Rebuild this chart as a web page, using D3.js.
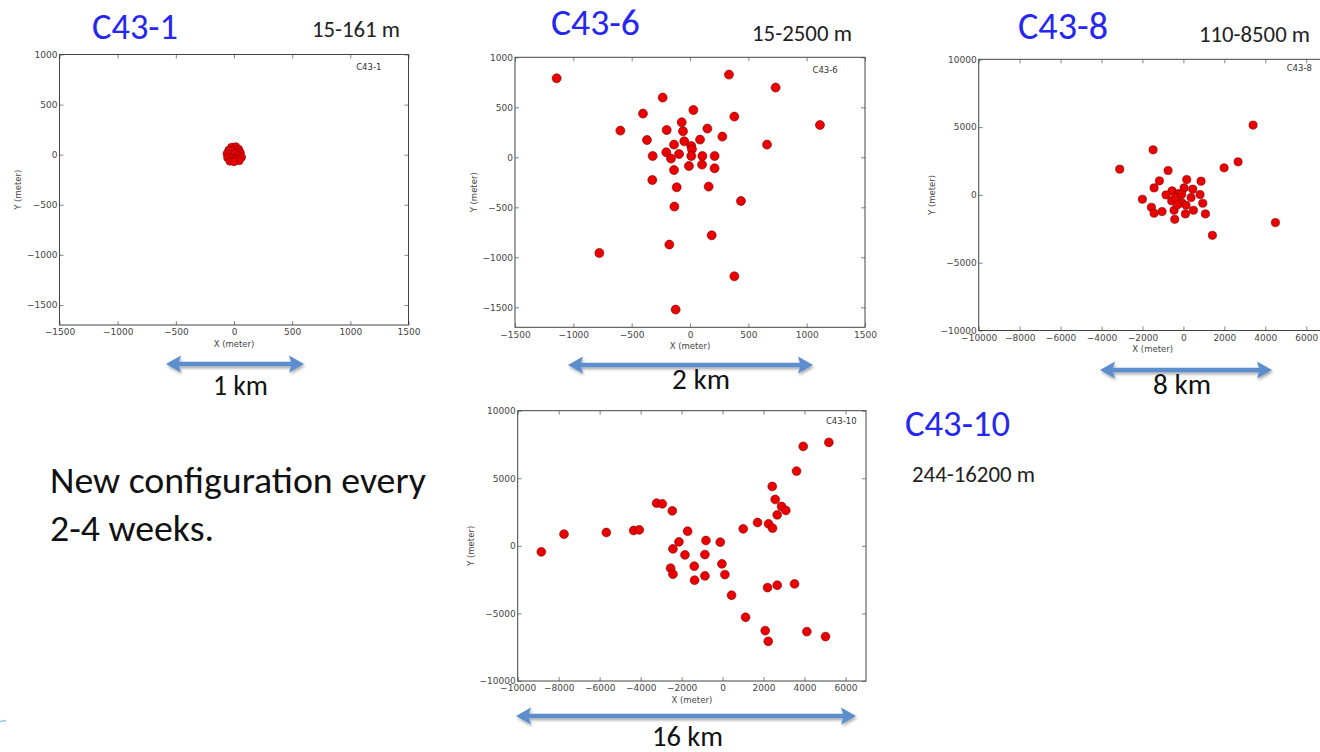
<!DOCTYPE html>
<html><head><meta charset="utf-8">
<script src="https://cdn.jsdelivr.net/npm/d3@7"></script>
<style>body{margin:0;background:#fff;overflow:hidden} svg{display:block}</style>
</head><body><svg id="s" width="1320" height="752"></svg>
<script>
// ---------- data ----------
const c43_1_x = [-20, 15, 40, -45, -10, 25, 55, -60, -30, 5, 40, 65, -55, -20, 15, 45, -35, 0];
const c43_1_y = [75, 80, 55, 45, 45, 30, 20, 10, 5, 10, -10, -25, -30, -35, -45, -60, -65, -70];

const c43_6_x = [-1143, 334, 734, -234, -403, 29, 380, -597, 1114, -71, -200, -60, 149, 277, -369, -49, 86, -137, 11, 17, 660, -203, -94, -320, -163, 11, 106, 211, -9, 103, 211, -137, -323, -114, 160, 437, -134, 186, -177, -777, 380, -123];
const c43_6_y = [790, 827, 697, 597, 437, 473, 407, 267, 323, 350, 273, 260, 287, 207, 173, 160, 177, 127, 113, 80, 127, 50, 33, 13, -13, 13, 13, 13, -87, -73, -110, -127, -227, -300, -293, -437, -493, -780, -873, -957, -1190, -1523];

const c43_8_x = [3404, -1482, -3111, -749, 1987, 2671, -1173, 163, 863, -1433, -554, 33, 456, -847, -228, 814, -2003, 375, -570, -81, 945, -1563, -1042, -456, 130, 489, -1433, 98, 1075, -423, 1417, 4495, -391, -81, -293];
const c43_8_y = [5148, 3325, 1897, 1798, 1995, 2438, 1034, 1133, 1010, 517, 296, 517, 419, 0, 99, 25, -320, -197, -443, -567, -616, -911, -1232, -1133, -764, -1133, -1355, -1404, -1404, -1798, -2980, -2044, -197, 49, -739];

const c43_10_x = [5187, 3935, 3610, 2423, 2569, 2878, 3089, 2667, -3220, -2943, -2455, 1707, 2244, 2439, 1008, -1707, -7740, -5675, -4341, -4065, -2130, -813, -114, -8846, -2423, -1837, -862, -2537, -1382, -33, -2423, -862, 114, -1366, 439, 2195, 2667, 3512, 1122, 2081, 2228, 4114, 5024];
const c43_10_y = [7654, 7358, 5531, 4395, 3432, 2914, 2617, 2296, 3160, 3111, 2593, 1728, 1630, 1309, 1259, 1086, 864, 988, 1136, 1185, 296, 395, 272, -444, -222, -667, -642, -1654, -1506, -1333, -2099, -2222, -2123, -2543, -3654, -3086, -2914, -2815, -5284, -6272, -7062, -6346, -6716];

const ticksSmallX = [-1500, -1000, -500, 0, 500, 1000, 1500];
const ticksSmallY = [-1500, -1000, -500, 0, 500, 1000];
const ticksLargeX = [-10000, -8000, -6000, -4000, -2000, 0, 2000, 4000, 6000];
const ticksLargeY = [-10000, -5000, 0, 5000, 10000];

const configNames = ["C43-1", "C43-6", "C43-8", "C43-10"];
const baselineRanges = ["15-161 m", "15-2500 m", "110-8500 m", "244-16200 m"];
const scaleLabels = ["1 km", "2 km", "8 km", "16 km"];
const noteLines = ["New configuration every", "2-4 weeks."];
const axisLabelX = "X (meter)";
const axisLabelY = "Y (meter)";

// ---------- layout ----------
const svg = d3.select("#s");
const SLIDE_FONT = "Carlito, Lato, 'Open Sans', sans-serif";
const PLOT_FONT = "'DejaVu Sans', sans-serif";

const defs = svg.append("defs");
const f = defs.append("filter").attr("id", "sh").attr("x", "-10%").attr("y", "-50%").attr("width", "120%").attr("height", "200%");
f.append("feDropShadow").attr("dx", 1).attr("dy", 2).attr("stdDeviation", 1.6).attr("flood-color", "#000").attr("flood-opacity", 0.35);

const panels = [
  {x: c43_1_x, y: c43_1_y, name: configNames[0], l: 59.5, r: 408.5, t: 54.5, b: 325, xd: [-1500, 1500], yd: [-1700, 1000], tx: ticksSmallX, ty: ticksSmallY, lf: 0.85, lt: 15.5, rad: 4},
  {x: c43_6_x, y: c43_6_y, name: configNames[1], l: 515, r: 865, t: 57.3, b: 327.3, xd: [-1500, 1500], yd: [-1700, 1000], tx: ticksSmallX, ty: ticksSmallY, lf: 0.85, lt: 15.5, rad: 4.5},
  {x: c43_8_x, y: c43_8_y, name: configNames[2], l: 978.7, r: 1326.7, t: 59.3, b: 330.5, xd: [-10000, 7000], yd: [-10000, 10000], tx: ticksLargeX, ty: ticksLargeY, lf: 0.885, lt: 12, rad: 4.1},
  {x: c43_10_x, y: c43_10_y, name: configNames[3], l: 517.7, r: 866, t: 410.7, b: 681, xd: [-10000, 7000], yd: [-10000, 10000], tx: ticksLargeX, ty: ticksLargeY, lf: 0.885, lt: 13, rad: 4.4}
];

const fmt = d => (d < 0 ? "\u2212" + Math.abs(d) : String(d));

panels.forEach(p => {
  const xs = d3.scaleLinear().domain(p.xd).range([p.l, p.r]);
  const ys = d3.scaleLinear().domain(p.yd).range([p.b, p.t]);
  const g = svg.append("g");
  g.append("rect").attr("x", p.l).attr("y", p.t).attr("width", p.r - p.l).attr("height", p.b - p.t)
    .attr("fill", "#fff");

  const styleAxis = sel => {
    sel.select(".domain").remove();
    sel.selectAll("line").attr("stroke", "#666").attr("stroke-width", 0.8);
    sel.selectAll("text").attr("fill", "#454545").style("font-family", PLOT_FONT).style("font-size", "9px");
  };
  g.append("g").attr("transform", `translate(0,${p.b})`)
    .call(d3.axisBottom(xs).tickValues(p.tx).tickFormat(fmt).tickSize(-4).tickPadding(4).tickSizeOuter(0)).call(styleAxis);
  g.append("g").attr("transform", `translate(0,${p.t})`)
    .call(d3.axisTop(xs).tickValues(p.tx).tickFormat("").tickSize(-4).tickSizeOuter(0)).call(styleAxis);
  const la = g.append("g").attr("transform", `translate(${p.l},0)`)
    .call(d3.axisLeft(ys).tickValues(p.ty).tickFormat(fmt).tickSize(-4).tickPadding(2).tickSizeOuter(0)).call(styleAxis);
  g.append("g").attr("transform", `translate(${p.r},0)`)
    .call(d3.axisRight(ys).tickValues(p.ty).tickFormat("").tickSize(-4).tickSizeOuter(0)).call(styleAxis);

  g.append("rect").attr("x", p.l).attr("y", p.t).attr("width", p.r - p.l).attr("height", p.b - p.t)
    .attr("fill", "none").attr("stroke", "#444").attr("stroke-width", 1);

  // axis labels
  g.append("text").attr("x", (p.l + p.r) / 2).attr("y", p.b + 21.5).attr("text-anchor", "middle")
    .style("font-family", PLOT_FONT).style("font-size", "8.5px").attr("fill", "#454545").text(axisLabelX);
  let maxW = 0;
  la.selectAll("text").each(function () { maxW = Math.max(maxW, this.getComputedTextLength()); });
  const yx = p.l - maxW - 8;
  g.append("text").attr("transform", `translate(${yx},${(p.t + p.b) / 2}) rotate(-90)`).attr("text-anchor", "middle")
    .style("font-family", PLOT_FONT).style("font-size", "8.5px").attr("fill", "#454545").text(axisLabelY);

  // inner label
  g.append("text").attr("x", p.l + p.lf * (p.r - p.l)).attr("y", p.t + p.lt)
    .style("font-family", PLOT_FONT).style("font-size", "8.5px").attr("fill", "#333").text(p.name);

  // points
  const pts = p.x.map((v, i) => [v, p.y[i]]);
  g.append("g").selectAll("circle").data(pts).join("circle")
    .attr("cx", d => xs(d[0])).attr("cy", d => ys(d[1])).attr("r", p.rad)
    .attr("fill", "#ea0000").attr("stroke", "#7a0000").attr("stroke-width", 0.6);
});

// ---------- slide texts ----------
function fitText(x, y, str, targetW, fs, color) {
  const t = svg.append("text").attr("x", x).attr("y", y).style("font-family", SLIDE_FONT)
    .style("font-size", fs + "px").attr("fill", color).text(str);
  const w = t.node().getComputedTextLength();
  const nfs = fs * targetW / w;
  t.style("font-size", nfs + "px");
  return nfs;
}
const BLUE = "#2626f2";
fitText(92, 39, configNames[0], 86, 32, BLUE);
fitText(551, 35, configNames[1], 89, 32, BLUE);
fitText(1018, 39, configNames[2], 90, 32, BLUE);
fitText(905, 436, configNames[3], 105, 32, BLUE);

fitText(312, 37, baselineRanges[0], 88, 19, "#222");
fitText(752, 41, baselineRanges[1], 100, 19, "#222");
fitText(1199, 42, baselineRanges[2], 111, 19, "#222");
fitText(912, 482, baselineRanges[3], 123, 18, "#222");

const nfs = fitText(50, 493, noteLines[0], 376, 29, "#111");
svg.append("text").attr("x", 50).attr("y", 541).style("font-family", SLIDE_FONT)
  .style("font-size", nfs + "px").attr("fill", "#111").text(noteLines[1]);

// ---------- scale arrows ----------
const arrows = [
  {x1: 166, x2: 304, y: 364, tx: 213, ty: 395, tw: 55},
  {x1: 568, x2: 813, y: 365, tx: 672, ty: 389, tw: 58},
  {x1: 1100, x2: 1272, y: 370, tx: 1153, ty: 394, tw: 58},
  {x1: 516, x2: 856, y: 716, tx: 652, ty: 745.5, tw: 71}
];
arrows.forEach((a, i) => {
  const hl = 15, hh = 8.5, st = 2.2, y = a.y;
  const pts = [[a.x1, y], [a.x1 + hl, y - hh], [a.x1 + hl - 2, y - st], [a.x2 - hl + 2, y - st], [a.x2 - hl, y - hh], [a.x2, y],
    [a.x2 - hl, y + hh], [a.x2 - hl + 2, y + st], [a.x1 + hl - 2, y + st], [a.x1 + hl, y + hh]];
  svg.append("path").attr("d", d3.line()(pts) + "Z").attr("fill", "#5b8dcc").attr("filter", "url(#sh)");
  fitText(a.tx, a.ty, scaleLabels[i], a.tw, 24, "#111");
});

// tiny slide decoration at bottom-left
svg.append("line").attr("x1", 0).attr("x2", 6).attr("y1", 721.5).attr("y2", 720.5)
  .attr("stroke", "#8fcbe0").attr("stroke-width", 1.5);
</script></body></html>
